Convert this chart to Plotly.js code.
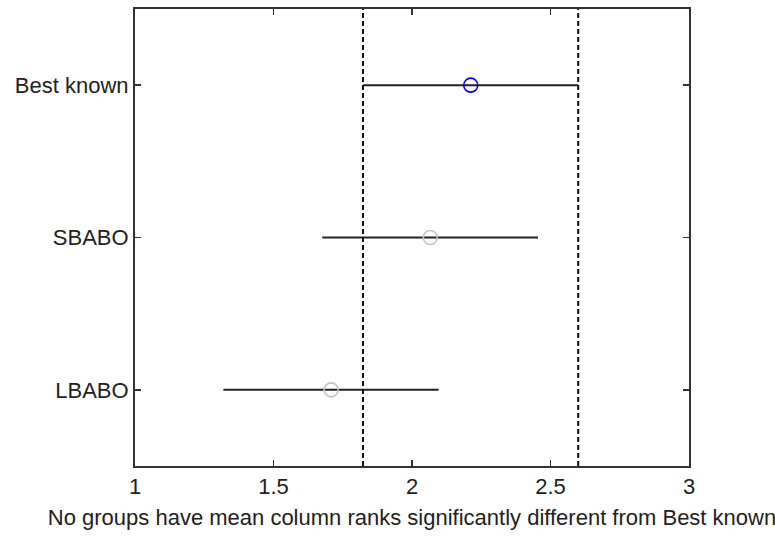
<!DOCTYPE html>
<html>
<head>
<meta charset="utf-8">
<script src="https://cdn.plot.ly/plotly-3.0.1.min.js"></script>
<style>html,body{margin:0;padding:0;background:#fff;}#chart{width:775px;height:540px;}</style>
</head>
<body>
<div id="chart"></div>
<script>
// Groups (bottom to top)
var groups = ['LBABO', 'SBABO', 'Best known'];
var meanRank = [1.708, 2.066, 2.212];
var lowerCI = [1.319, 1.676, 1.823];
var upperCI = [2.096, 2.455, 2.600];
var markerColors = ['#c4c4c4', '#c4c4c4', '#0000ff'];
var xTicks = [1, 1.5, 2, 2.5, 3];
var xLabel = 'No groups have mean column ranks significantly different from Best known';
var refGroup = 'Best known';

var traces = [];
for (var i = 0; i < groups.length; i++) {
  traces.push({
    type: 'scatter', mode: 'lines',
    x: [lowerCI[i], upperCI[i]], y: [i, i],
    line: {color: '#222', width: 2},
    hoverinfo: 'skip', showlegend: false
  });
}
traces.push({
  type: 'scatter', mode: 'markers',
  x: meanRank, y: groups.map(function (g, i) { return i; }),
  marker: {symbol: 'circle-open', size: 14, color: markerColors, line: {width: 1.6, color: markerColors}},
  showlegend: false
});

var ri = groups.indexOf(refGroup);
var shapes = [lowerCI[ri], upperCI[ri]].map(function (xv) {
  return {type: 'line', xref: 'x', yref: 'paper', x0: xv, x1: xv, y0: 0, y1: 1,
          line: {color: '#111', width: 2, dash: '5px,3px'}};
});

var font = {family: 'Arial, "Liberation Sans", sans-serif', size: 22, color: '#222'};
var layout = {
  width: 775, height: 540,
  margin: {l: 135, r: 86, t: 9, b: 74},
  paper_bgcolor: '#fff', plot_bgcolor: '#fff',
  font: font,
  showlegend: false,
  shapes: shapes,
  xaxis: {
    range: [xTicks[0], xTicks[xTicks.length - 1]],
    tickvals: xTicks, ticktext: xTicks.map(String),
    ticks: 'inside', ticklen: 6, tickwidth: 1.5, tickcolor: '#333',
    showline: true, linecolor: '#333', linewidth: 2, mirror: 'ticks',
    showgrid: false, zeroline: false,
    tickfont: font,
    title: {text: xLabel, font: font, standoff: 11}
  },
  yaxis: {
    range: [-0.5, 2.5],
    tickvals: [0, 1, 2], ticktext: groups,
    ticks: 'inside', ticklen: 6, tickwidth: 1.5, tickcolor: '#333',
    showline: true, linecolor: '#333', linewidth: 2, mirror: 'ticks',
    showgrid: false, zeroline: false,
    tickfont: font
  }
};

Plotly.newPlot('chart', traces, layout, {displayModeBar: false, staticPlot: true});
</script>
</body>
</html>
